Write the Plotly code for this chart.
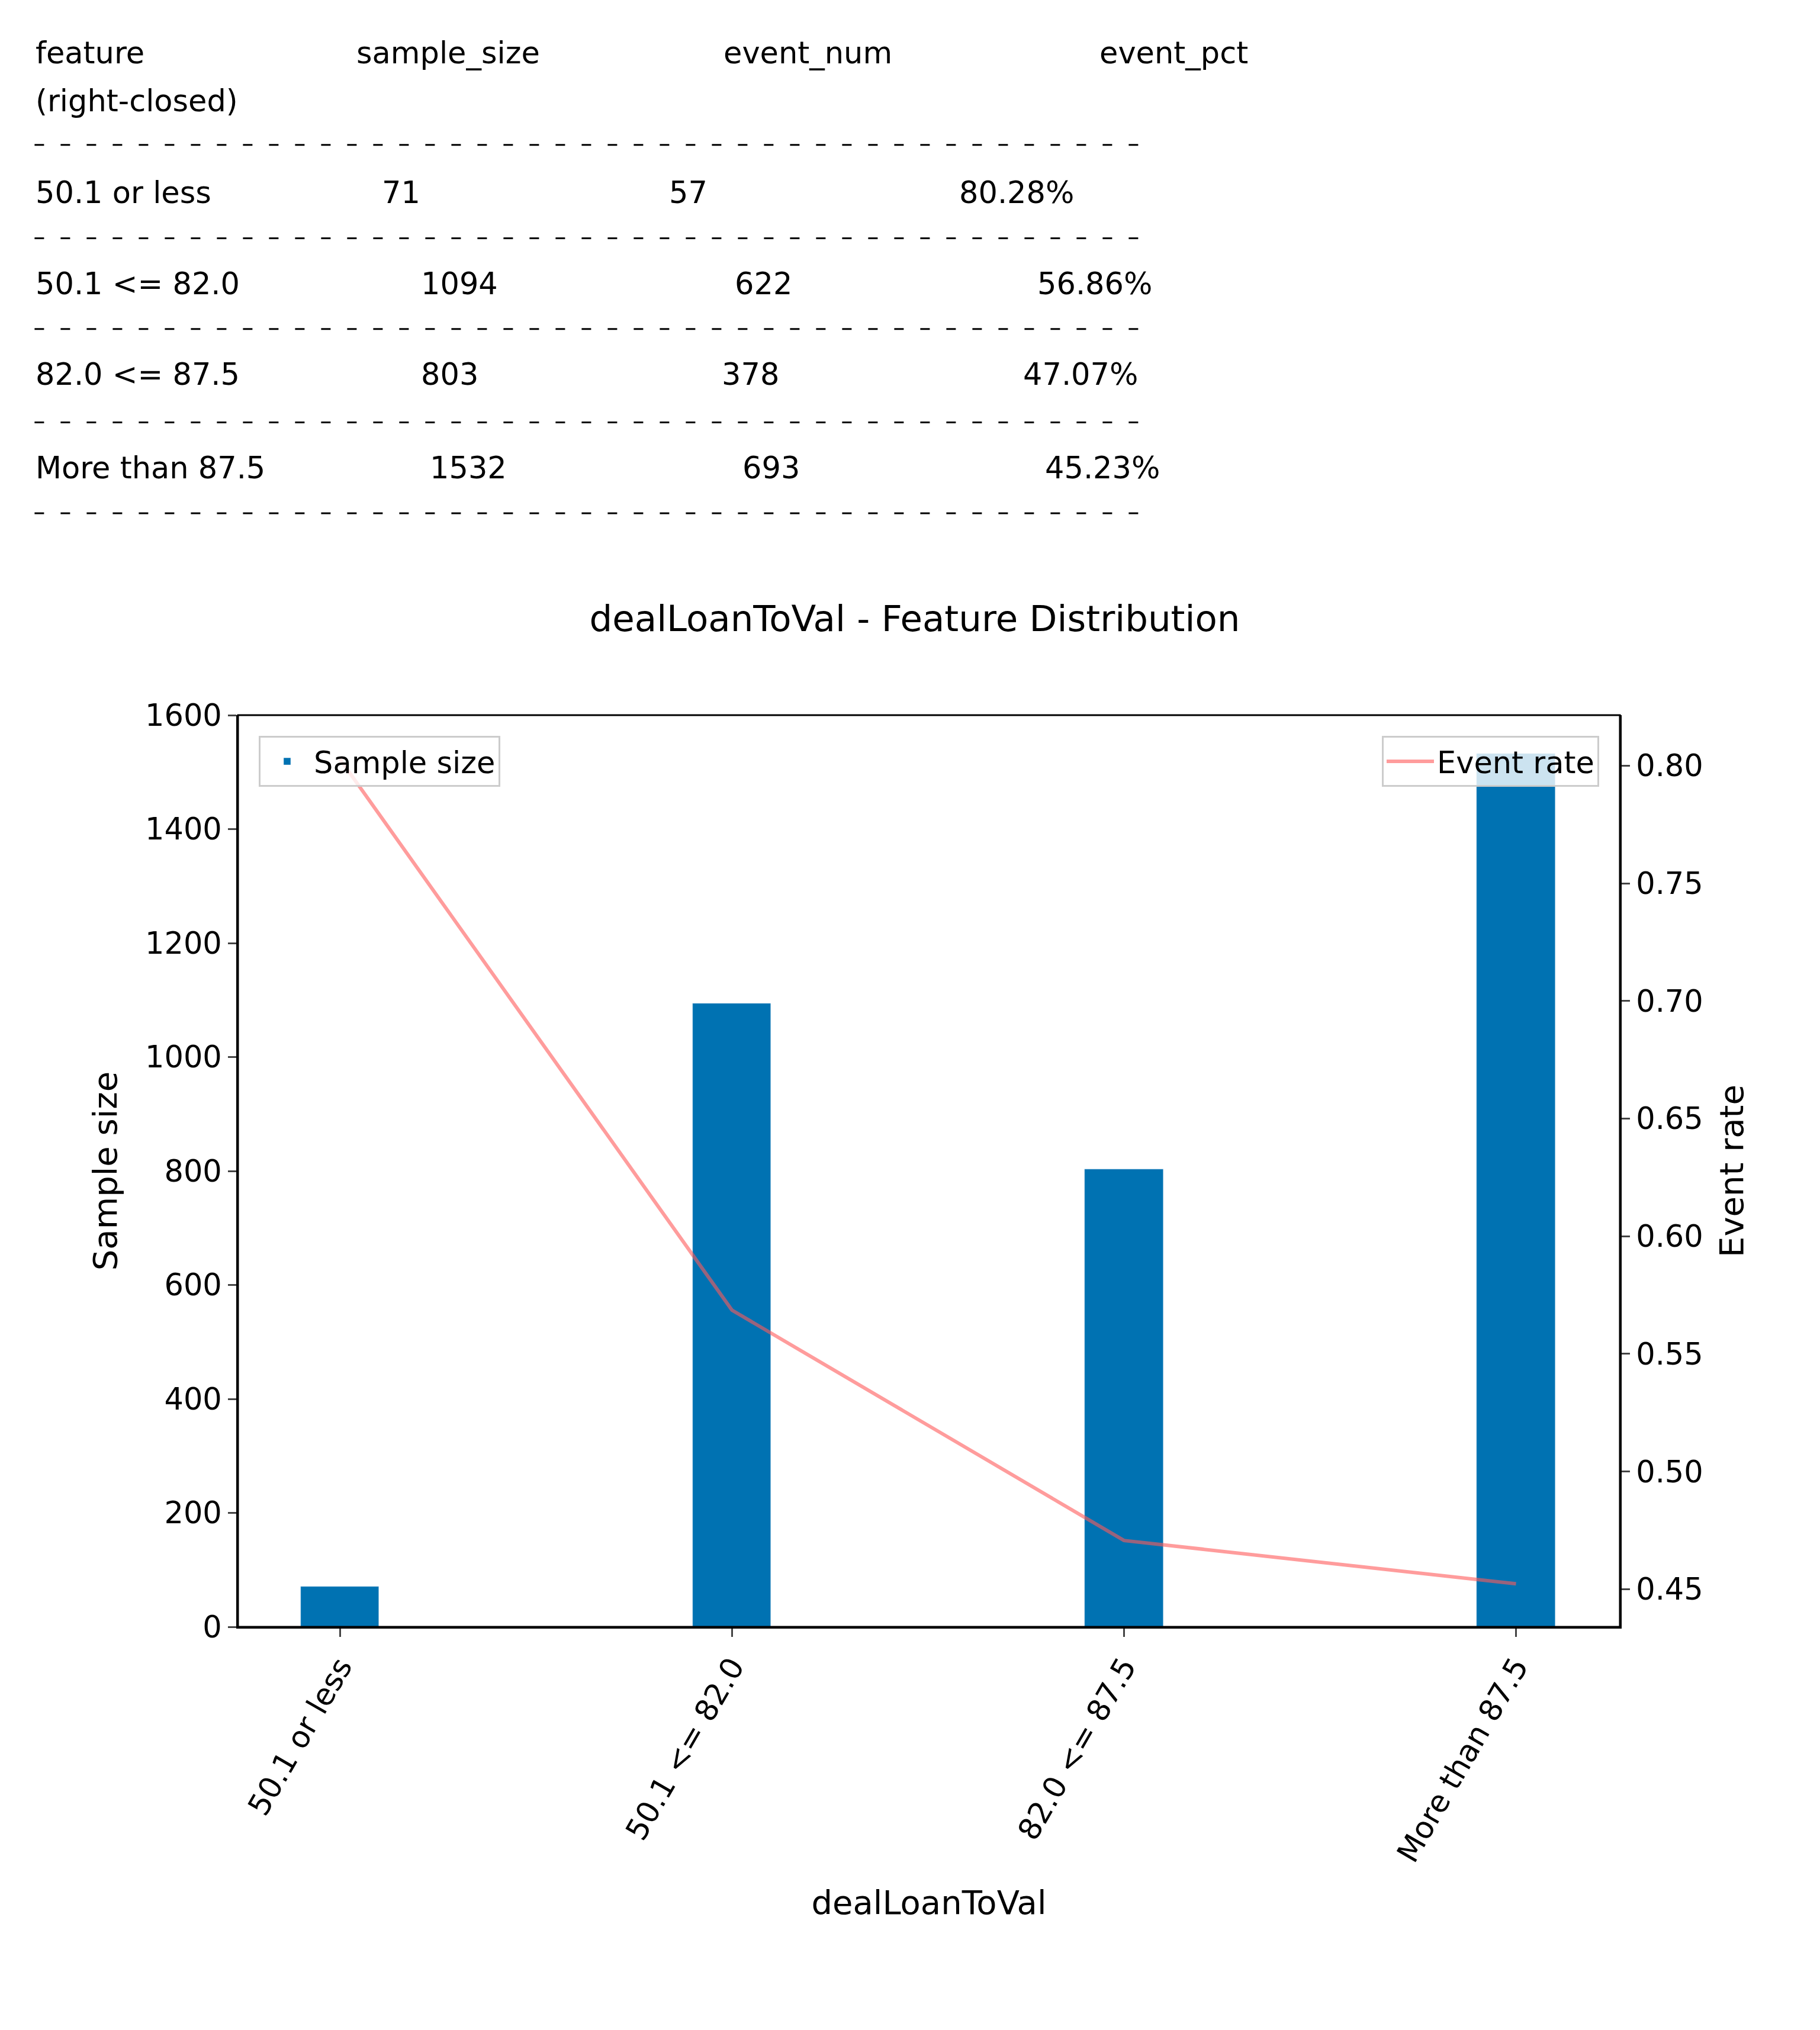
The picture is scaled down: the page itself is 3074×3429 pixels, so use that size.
import plotly.graph_objects as go

categories = ["50.1 or less", "50.1 <= 82.0", "82.0 <= 87.5", "More than 87.5"]
sample_size = [71, 1094, 803, 1532]
event_num = [57, 622, 378, 693]
event_rate = [0.8028, 0.5686, 0.4707, 0.4523]
event_pct = ["80.28%", "56.86%", "47.07%", "45.23%"]

W, H = 3074, 3429
S = 3074 / 1403  # reference pixel scale
L, R, T, B = 394, 2728, 1200, 2740

def px(x):
    return (x * S - L) / (R - L)

def py(y):
    return (B - y * S) / (B - T)

FONT = "DejaVu Sans"
FS = 51

fig = go.Figure()
fig.add_trace(go.Bar(x=list(range(4)), y=sample_size, width=0.2, marker_color="#0072b2",
                     name="Sample size", legend="legend", showlegend=True))
fig.add_trace(go.Scatter(x=list(range(4)), y=event_rate, mode="lines", yaxis="y2",
                         line=dict(color="rgba(255,90,90,0.6)", width=6),
                         name="Event rate", legend="legend2", showlegend=True))

ann = []
def txt(x, y, s):
    ann.append(dict(x=px(x), y=py(y), xref="paper", yref="paper", text=s, showarrow=False,
                    xanchor="left", yanchor="middle", font=dict(size=FS, color="black", family=FONT)))

for x, s in zip([23, 270, 553, 843], ["feature", "sample_size", "event_num", "event_pct"]):
    txt(x, 37, s)
txt(23, 74, "(right-closed)")
for y in [108, 180, 250, 322, 392]:
    fig.add_shape(type="line", xref="paper", yref="paper", x0=px(23), x1=px(876),
                  y0=py(y), y1=py(y), line=dict(color="black", width=3, dash="16px,28px"))
rows_x = [[23, 290, 511, 735], [23, 320, 562, 795], [23, 320, 552, 784], [23, 327, 568, 801]]
rows_y = [145, 215, 285, 357]
for i in range(4):
    vals = [categories[i], str(sample_size[i]), str(event_num[i]), event_pct[i]]
    for x, s in zip(rows_x[i], vals):
        txt(x, rows_y[i], s)

ax = dict(showline=True, linecolor="black", linewidth=3, mirror=False, ticks="outside",
          ticklen=14, tickwidth=3, showgrid=False, zeroline=False,
          tickfont=dict(size=FS, family=FONT, color="black"))

fig.update_layout(
    width=W, height=H, plot_bgcolor="white", paper_bgcolor="white",
    margin=dict(l=L, r=W - R, t=T, b=H - B, autoexpand=False),
    font=dict(family=FONT, color="black"),
    title=dict(text="dealLoanToVal - Feature Distribution", x=0.5, xanchor="center",
               y=1 - 473 * S / H, yanchor="middle", font=dict(size=61, family=FONT)),
    xaxis=dict(**ax, range=[-0.26, 3.265], tickmode="array", tickvals=list(range(4)),
               ticktext=categories, tickangle=-60,
               title=dict(text="dealLoanToVal", font=dict(size=56, family=FONT), standoff=40)),
    yaxis=dict(**ax, range=[0, 1600], dtick=200,
               title=dict(text="Sample size", font=dict(size=56, family=FONT), standoff=30)),
    yaxis2=dict(**ax, overlaying="y", side="right", range=[0.434, 0.8215], dtick=0.05,
                tickformat=".2f",
                title=dict(text="Event rate", font=dict(size=56, family=FONT), standoff=30)),
    legend=dict(x=0.015, y=0.977, xanchor="left", yanchor="top", bgcolor="rgba(255,255,255,0.8)",
                bordercolor="#cccccc", borderwidth=3, font=dict(size=FS, family=FONT),
                itemwidth=80),
    legend2=dict(x=0.985, y=0.977, xanchor="right", yanchor="top", bgcolor="rgba(255,255,255,0.8)",
                 bordercolor="#cccccc", borderwidth=3, font=dict(size=FS, family=FONT),
                 itemwidth=80),
    annotations=ann,
    bargap=0,
)
fig.add_shape(type="rect", xref="paper", yref="paper", x0=0, y0=0, x1=1, y1=1,
              line=dict(color="black", width=3))

fig.write_html("out.html")
